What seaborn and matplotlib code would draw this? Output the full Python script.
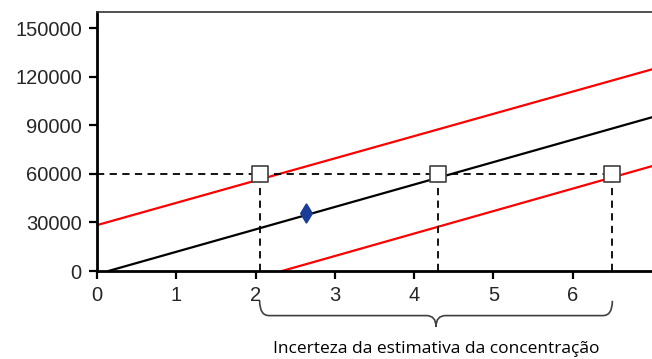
import pandas as pd
import matplotlib.pyplot as plt
import seaborn as sns
from matplotlib.path import Path
from matplotlib.patches import PathPatch
import matplotlib.transforms as mtransforms

# linha de calibracao e limites (leitura do grafico)
fit_x = [0.14, 7.0]
fit_y = [0, 95000]
upper_x = [0.0, 7.0]
upper_y = [28400, 124600]
lower_x = [2.33, 7.0]
lower_y = [0, 64800]

# amostra e pontos de interseccao
sample_x = [2.64]
sample_y = [35800]
cross_x = [2.05, 4.3, 6.5]
cross_y = [60000, 60000, 60000]

xticks = [0, 1, 2, 3, 4, 5, 6]
yticks = [0, 30000, 60000, 90000, 120000, 150000]
brace_label = 'Incerteza da estimativa da concentração'

sns.set_theme(style='ticks')
plt.rcParams['font.family'] = ['Liberation Sans', 'DejaVu Sans']

fig = plt.figure(figsize=(6.52, 3.59), dpi=100)
ax = fig.add_axes([0.149, 0.245, 0.851, 0.7215])

sns.lineplot(x=fit_x, y=fit_y, color='black', lw=1.6, ax=ax)
sns.lineplot(x=upper_x, y=upper_y, color='#ff0000', lw=1.6, ax=ax)
sns.lineplot(x=lower_x, y=lower_y, color='#ff0000', lw=1.6, ax=ax)

ax.hlines(cross_y[0], 0, max(cross_x), color='black', lw=1.3,
          linestyles=(0, (4, 3)), zorder=3)
ax.vlines(cross_x, 0, cross_y, color='black', lw=1.3,
          linestyles=(0, (4, 3)), zorder=3)

sns.scatterplot(x=sample_x, y=sample_y, marker='d', s=85, color='#1a3d99',
                edgecolor='#1a3d99', linewidth=1.5, ax=ax, zorder=5)
sns.scatterplot(x=cross_x, y=cross_y, marker='s', s=130, color='white',
                edgecolor='#404040', linewidth=1.2, ax=ax, zorder=6)

ax.set_xlim(0, 7)
ax.set_ylim(0, 160000)
ax.set_xticks(xticks)
ax.set_yticks(yticks)
ax.set_yticklabels([str(v) for v in yticks])
ax.tick_params(axis='both', labelsize=14.5, width=1.6, length=6, color='black',
               direction='out', pad=5)
for s in ['left', 'bottom']:
    ax.spines[s].set_linewidth(2)
    ax.spines[s].set_color('black')
ax.spines['top'].set_linewidth(1.2)
ax.spines['top'].set_color('#333333')
ax.spines['right'].set_visible(False)

# chave sob o eixo
trans = mtransforms.blended_transform_factory(ax.transData, ax.transAxes)
x0, x1 = cross_x[0], cross_x[-1]
xm = (x0 + x1) / 2
top, mid, tip = -0.115, -0.172, -0.215
r = 0.12
verts = [(x0, top), (x0, mid), (x0 + r, mid),
         (xm - r, mid), (xm, mid), (xm, tip),
         (xm, mid), (xm + r, mid),
         (x1 - r, mid), (x1, mid), (x1, top)]
codes = [Path.MOVETO, Path.CURVE3, Path.CURVE3,
         Path.LINETO, Path.CURVE3, Path.CURVE3,
         Path.CURVE3, Path.CURVE3,
         Path.LINETO, Path.CURVE3, Path.CURVE3]
ax.add_patch(PathPatch(Path(verts, codes), fill=False, edgecolor='#404040',
                       lw=1.2, transform=trans, clip_on=False))
ax.text(xm, -0.318, brace_label, transform=trans, ha='center', va='baseline',
        fontsize=12.5, family=['Open Sans', 'DejaVu Sans'], color='black')

fig.savefig('out.png', dpi=100)
